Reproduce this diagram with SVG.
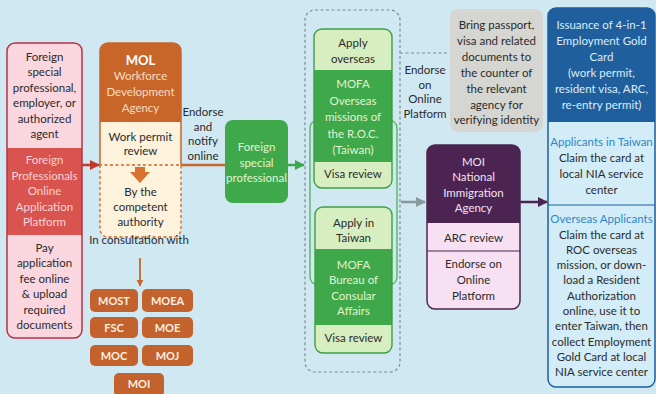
<svg xmlns="http://www.w3.org/2000/svg" width="656" height="394" viewBox="0 0 656 394">
<defs>
<style>
text{font-family:Lato,"Liberation Sans",sans-serif;font-size:11.5px;text-anchor:middle;fill:#2b2b2b}
.lp{fill:#fbd3d8}.wo{fill:#f9dcc0}.lg{fill:#e2f4d2}.lv{fill:#f3e2f3}.lb{fill:#dcedf9}.bl{fill:#2f86c6}
.bw{fill:#fff1e2;font-weight:bold;font-size:11px}
.ob{fill:#c4622d}
.dash{fill:none;stroke:#7d8d92;stroke-width:1.2;stroke-dasharray:3 2.5}
</style>
<marker id="ar" viewBox="0 0 10 10" refX="9" refY="5" markerWidth="4" markerHeight="4" orient="auto"><path d="M0,0L10,5L0,10z" fill="context-stroke"/></marker>
<marker id="aRed" viewBox="0 0 10 10" refX="9" refY="5" markerWidth="4" markerHeight="4" orient="auto"><path d="M0,0L10,5L0,10z" fill="#c0392b"/></marker>
<marker id="aOr" viewBox="0 0 10 10" refX="9" refY="5" markerWidth="4" markerHeight="4" orient="auto"><path d="M0,0L10,5L0,10z" fill="#c8662a"/></marker>
<marker id="aGr" viewBox="0 0 10 10" refX="9" refY="5" markerWidth="4" markerHeight="4" orient="auto"><path d="M0,0L10,5L0,10z" fill="#3ea84b"/></marker>
<marker id="aGy" viewBox="0 0 10 10" refX="9" refY="5" markerWidth="4" markerHeight="4" orient="auto"><path d="M0,0L10,5L0,10z" fill="#8a9a9c"/></marker>
<marker id="aPu" viewBox="0 0 10 10" refX="9" refY="5" markerWidth="4" markerHeight="4" orient="auto"><path d="M0,0L10,5L0,10z" fill="#4b2452"/></marker>
</defs>
<rect width="656" height="394" fill="#cfe8f2"/>

<g id="applicant">
<rect x="7" y="43" width="75" height="295" rx="8" fill="#fad6de"/>
<rect x="7" y="148" width="75" height="87" fill="#d9534f"/>
<rect x="7" y="43" width="75" height="295" rx="8" fill="none" stroke="#b83245" stroke-width="1.5"/>
<text x="44.5" y="61">Foreign<tspan x="44.5" dy="15.4">special</tspan><tspan x="44.5" dy="15.4">professional,</tspan><tspan x="44.5" dy="15.4">employer, or</tspan><tspan x="44.5" dy="15.4">authorized</tspan><tspan x="44.5" dy="15.4">agent</tspan></text>
<text class="lp" x="44.5" y="164">Foreign<tspan x="44.5" dy="15.5">Professionals</tspan><tspan x="44.5" dy="15.5">Online</tspan><tspan x="44.5" dy="15.5">Application</tspan><tspan x="44.5" dy="15.5">Platform</tspan></text>
<text x="44.5" y="252">Pay<tspan x="44.5" dy="15.4">application</tspan><tspan x="44.5" dy="15.4">fee online</tspan><tspan x="44.5" dy="15.4">&amp; upload</tspan><tspan x="44.5" dy="15.4">required</tspan><tspan x="44.5" dy="15.4">documents</tspan></text>
</g>

<g id="mol">
<path d="M100,165V51a8,8 0 0 1 8,-8H173a8,8 0 0 1 8,8V165z" fill="#fdf2dc"/>
<path d="M100,122V51a8,8 0 0 1 8,-8H173a8,8 0 0 1 8,8V122z" fill="#c8662a"/>
<path d="M100,165V51a8,8 0 0 1 8,-8H173a8,8 0 0 1 8,8V165" fill="none" stroke="#c8662a" stroke-width="1.5"/>
<path d="M100,165V229a8,8 0 0 0 8,8H173a8,8 0 0 0 8,-8V165z" fill="#fdf2dc" stroke="#c8662a" stroke-width="1.3" stroke-dasharray="3 2.5"/>
<text x="140.5" y="65" style="font-weight:bold;font-size:13px;fill:#fff">MOL</text>
<text class="wo" x="140.5" y="80">Workforce<tspan x="140.5" dy="16">Development</tspan><tspan x="140.5" dy="16">Agency</tspan></text>
<text x="140.5" y="141">Work permit<tspan x="140.5" dy="14">review</tspan></text>
<polygon points="135,167 145,167 145,172 150,172 140,183 130,172 135,172" fill="#d9722e"/>
<text x="140.5" y="196">By the<tspan x="140.5" dy="15">competent</tspan><tspan x="140.5" dy="15">authority</tspan></text>
<text x="139" y="244">In consultation with</text>
</g>

<g id="ministries">
<rect class="ob" x="90" y="289" width="48" height="23" rx="5"/><text class="bw" x="114" y="304.5">MOST</text>
<rect class="ob" x="142" y="289" width="51" height="23" rx="5"/><text class="bw" x="167.5" y="304.5">MOEA</text>
<rect class="ob" x="90" y="317" width="48" height="21" rx="5"/><text class="bw" x="114" y="331.5">FSC</text>
<rect class="ob" x="142" y="317" width="51" height="21" rx="5"/><text class="bw" x="167.5" y="331.5">MOE</text>
<rect class="ob" x="90" y="345" width="48" height="21" rx="5"/><text class="bw" x="114" y="359.5">MOC</text>
<rect class="ob" x="142" y="345" width="51" height="21" rx="5"/><text class="bw" x="167.5" y="359.5">MOJ</text>
<rect class="ob" x="114" y="373" width="50" height="24" rx="5"/><text class="bw" x="139" y="388">MOI</text>
</g>

<g id="endorse-notify">
<text x="203" y="116">Endorse<tspan x="203" dy="14.5">and</tspan><tspan x="203" dy="14.5">notify</tspan><tspan x="203" dy="14.5">online</tspan></text>
</g>

<g id="foreign-professional">
<rect x="225" y="120" width="63" height="83" rx="8" fill="#3ea84b"/>
<text class="lg" x="256.5" y="151">Foreign<tspan x="256.5" dy="15.5">special</tspan><tspan x="256.5" dy="15.5">professional</tspan></text>
</g>

<g id="mofa-group">
<rect class="dash" x="305" y="10" width="95" height="362" rx="10"/>
<rect x="310" y="120" width="87" height="165" rx="8" fill="none" stroke="#4fb257" stroke-width="1.3"/>
</g>

<g id="mofa-overseas">
<rect x="314" y="29" width="78" height="159" rx="8" fill="#d7eec0"/>
<rect x="314" y="70" width="78" height="92" fill="#3ea84b"/>
<rect x="314" y="29" width="78" height="159" rx="8" fill="none" stroke="#3f9e47" stroke-width="1.4"/>
<text x="353" y="47">Apply<tspan x="353" dy="16">overseas</tspan></text>
<text class="lg" x="353" y="88">MOFA<tspan x="353" dy="16.5">Overseas</tspan><tspan x="353" dy="16.5">missions of</tspan><tspan x="353" dy="16.5">the R.O.C.</tspan><tspan x="353" dy="16.5">(Taiwan)</tspan></text>
<text x="353" y="178">Visa review</text>
</g>

<g id="mofa-taiwan">
<rect x="315" y="207" width="77" height="146" rx="8" fill="#d7eec0"/>
<rect x="315" y="249" width="77" height="76" fill="#3ea84b"/>
<rect x="315" y="207" width="77" height="146" rx="8" fill="none" stroke="#3f9e47" stroke-width="1.4"/>
<text x="353.5" y="227">Apply in<tspan x="353.5" dy="15">Taiwan</tspan></text>
<text class="lg" x="353.5" y="269">MOFA<tspan x="353.5" dy="15.3">Bureau of</tspan><tspan x="353.5" dy="15.3">Consular</tspan><tspan x="353.5" dy="15.3">Affairs</tspan></text>
<text x="353.5" y="342">Visa review</text>
</g>

<g id="endorse-platform">
<text x="425" y="74">Endorse<tspan x="425" dy="14.5">on</tspan><tspan x="425" dy="14.5">Online</tspan><tspan x="425" dy="14.5">Platform</tspan></text>
</g>

<g id="identity">
<rect x="450" y="9" width="93" height="123" rx="8" fill="#d5d5d1"/>
<text x="496.5" y="29">Bring passport,<tspan x="496.5" dy="15.9">visa and related</tspan><tspan x="496.5" dy="15.9">documents to</tspan><tspan x="496.5" dy="15.9">the counter of</tspan><tspan x="496.5" dy="15.9">the relevant</tspan><tspan x="496.5" dy="15.9">agency for</tspan><tspan x="496.5" dy="15.9">verifying identity</tspan></text>
</g>

<g id="moi">
<rect x="427" y="145" width="93" height="164" rx="8" fill="#f6e0f1"/>
<path d="M427,223V153a8,8 0 0 1 8,-8H512a8,8 0 0 1 8,8V223z" fill="#4b2452"/>
<line x1="427" y1="251" x2="520" y2="251" stroke="#4b2452" stroke-width="1.2"/>
<rect x="427" y="145" width="93" height="164" rx="8" fill="none" stroke="#4b2452" stroke-width="1.5"/>
<text class="lv" x="473.5" y="166">MOI<tspan x="473.5" dy="15.3">National</tspan><tspan x="473.5" dy="15.3">Immigration</tspan><tspan x="473.5" dy="15.3">Agency</tspan></text>
<text x="473.5" y="242">ARC review</text>
<text x="473.5" y="268">Endorse on<tspan x="473.5" dy="16">Online</tspan><tspan x="473.5" dy="16">Platform</tspan></text>
</g>

<g id="gold-card">
<rect x="548" y="8" width="107" height="379" rx="8" fill="#d2edf8"/>
<path d="M548,122V16a8,8 0 0 1 8,-8H647a8,8 0 0 1 8,8V122z" fill="#1f5f9e"/>
<line x1="548" y1="205" x2="655" y2="205" stroke="#1f5f9e" stroke-width="1.2"/>
<rect x="548" y="8" width="107" height="379" rx="8" fill="none" stroke="#1f5f9e" stroke-width="1.5"/>
<text class="lb" x="601.5" y="29">Issuance of 4-in-1<tspan x="601.5" dy="16">Employment Gold</tspan><tspan x="601.5" dy="16">Card</tspan><tspan x="601.5" dy="16">(work permit,</tspan><tspan x="601.5" dy="16">resident visa, ARC,</tspan><tspan x="601.5" dy="16">re-entry permit)</tspan></text>
<text class="bl" x="601.5" y="146">Applicants in Taiwan</text>
<text x="601.5" y="162">Claim the card at<tspan x="601.5" dy="16">local NIA service</tspan><tspan x="601.5" dy="16">center</tspan></text>
<text class="bl" x="601.5" y="223">Overseas Applicants</text>
<text x="601.5" y="238.5">Claim the card at<tspan x="601.5" dy="15.3">ROC overseas</tspan><tspan x="601.5" dy="15.3">mission, or down-</tspan><tspan x="601.5" dy="15.3">load a Resident</tspan><tspan x="601.5" dy="15.3">Authorization</tspan><tspan x="601.5" dy="15.3">online, use it to</tspan><tspan x="601.5" dy="15.3">enter Taiwan, then</tspan><tspan x="601.5" dy="15.3">collect Employment</tspan><tspan x="601.5" dy="15.3">Gold Card at local</tspan><tspan x="601.5" dy="15.3">NIA service center</tspan></text>
</g>

<g id="connectors" fill="none">
<line x1="82" y1="165" x2="99" y2="165" stroke="#c0392b" stroke-width="2.5" marker-end="url(#aRed)"/>
<line x1="181" y1="165" x2="225" y2="165" stroke="#c8662a" stroke-width="2.5"/>
<line x1="140" y1="258" x2="140" y2="286" stroke="#c8662a" stroke-width="1.8" marker-end="url(#aOr)"/>
<line x1="288" y1="165" x2="304" y2="165" stroke="#3ea84b" stroke-width="2.5" marker-end="url(#aGr)"/>
<line x1="400" y1="53" x2="448" y2="53" stroke="#7d8d92" stroke-width="1.2" stroke-dasharray="3 2.5"/>
<line x1="401" y1="202" x2="425" y2="202" stroke="#8a9a9c" stroke-width="2.5" marker-end="url(#aGy)"/>
<line x1="520" y1="202" x2="547" y2="202" stroke="#4b2452" stroke-width="2.5" marker-end="url(#aPu)"/>
</g>
</svg>
